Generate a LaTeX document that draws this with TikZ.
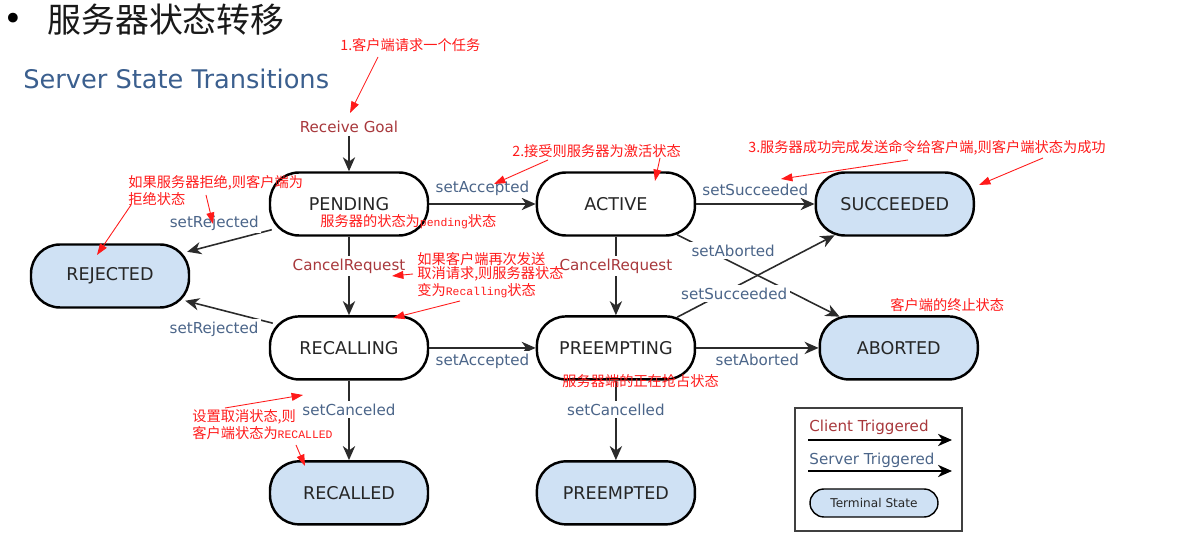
\documentclass[tikz,border=0pt]{standalone}
\usepackage{fontspec}
\setmainfont{DejaVu Sans}
\setmonofont{Liberation Mono}
\newfontfamily\cjk{Noto Sans CJK SC}
\newcommand\latinpart[1]{{\ttfamily\fontsize{6.5}{8.4}\selectfont #1}}
\usetikzlibrary{positioning,arrows.meta}

\definecolor{clientred}{HTML}{A8383C}
\definecolor{serverblue}{HTML}{4B6589}
\definecolor{termfill}{HTML}{CFE1F4}
\definecolor{titleblue}{HTML}{3B5F8E}
\definecolor{notered}{HTML}{FF1A1A}
\definecolor{edgegray}{HTML}{2B2B2B}

\begin{document}
\begin{tikzpicture}[%
		x=0.02cm, y=-0.02cm,
		>={Stealth[length=8pt,width=7pt,inset=2.5pt]},
		state/.style={%
			draw=black,
			line width=1.4pt,
			rounded corners=0.58cm,
			minimum width=3.16cm,
			minimum height=1.26cm,
			font=\fontsize{10}{12}\selectfont,
			text=black!85
		},
		term/.style={state, fill=termfill},
		trans/.style={->, draw=edgegray, line width=0.9pt},
		cli/.style={font=\fontsize{8.6}{10}\selectfont, text=clientred, fill=white, inner sep=1.5pt},
		srv/.style={font=\fontsize{8.6}{10}\selectfont, text=serverblue, fill=white, inner sep=1.5pt},
		note/.style={font=\cjk\fontsize{8.1}{8.4}\selectfont, text=notered, inner sep=0pt, anchor=west, align=left},
		noteline/.style={-{Triangle[length=6.5pt,width=4.5pt]}, draw=notered, line width=0.5pt}
		]
		\useasboundingbox (0,0) rectangle (1191,550);
		
		% headings
		\node[font=\fontsize{19}{22}\selectfont, inner sep=0pt] (bullet) at (13,22) {•};
		\node[font=\cjk\fontsize{19.3}{22}\selectfont, anchor=west, inner sep=0pt, text=black!90] (title) at (47,20) {服务器状态转移};
		\node[font=\fontsize{14.6}{16}\selectfont, anchor=west, inner sep=0pt, text=titleblue] (subtitle) at (23,79) {Server State Transitions};
		
		% states
		\node[state] (pending)                              at (349,204) {PENDING};
		\node[state] (active)     [right=2.13cm of pending]               {ACTIVE};
		\node[term]  (succeeded)  [right=2.37cm of active]                {SUCCEEDED};
		\node[term]  (rejected)                             at (110,276) {REJECTED};
		\node[state] (recalling)  [below=1.57cm of pending]               {RECALLING};
		\node[state] (preempting) [below=1.57cm of active]                {PREEMPTING};
		\node[term]  (aborted)    [right=2.45cm of preempting]            {ABORTED};
		\node[term]  (recalled)   [below=1.59cm of recalling]             {RECALLED};
		\node[term]  (preempted)  [below=1.59cm of preempting]            {PREEMPTED};
		
		\node[cli] (recv) at (349,127) {Receive Goal};
		
		\path (recv) edge[trans] (pending)
		(pending) edge[trans] node[srv, above=3pt] {setAccepted} (active)
		([shift={(3,-7)}]pending.south west) edge[trans] node[srv, pos=0.68, above=6pt] {setRejected} ([shift={(-3,8.5)}]rejected.north east)
		(pending) edge[trans] node[cli, pos=0.376] {CancelRequest} (recalling)
		([shift={(4,8)}]recalling.north west) edge[trans] node[srv, pos=0.67, below=6pt] {setRejected} ([shift={(-5,-8)}]rejected.south east)
		(recalling) edge[trans] node[srv, below=1.5pt] {setAccepted} (preempting)
		(recalling) edge[trans] node[srv, pos=0.366] {setCanceled} (recalled)
		(active) edge[trans] node[srv, above=3pt] {setSucceeded} (succeeded)
		(active) edge[trans] node[cli, pos=0.376] {CancelRequest} (preempting)
		([shift={(-19,-2)}]active.south east) edge[trans] node[srv, pos=0.345, above=1.9pt] {setAborted} ([shift={(21,1.5)}]aborted.north west)
		([shift={(-19,2)}]preempting.north east) edge[trans] node[srv, pos=0.3625, yshift=-3.4pt] {setSucceeded} ([shift={(20,-1.5)}]succeeded.south west)
		(preempting) edge[trans] node[srv, below=1.5pt] {setAborted} (aborted)
		(preempting) edge[trans] node[srv, pos=0.366] {setCancelled} (preempted);
		
		% legend
		\node[draw=black!75, line width=0.8pt, minimum width=3.34cm, minimum height=2.46cm] (legend) at (878.5,469.5) {};
		\node[cli, fill=none] (clilbl) at (869,427) {Client Triggered};
		\node[srv, fill=none] (srvlbl) at (872,460) {Server Triggered};
		\coordinate (cli a) at (808,440);
		\coordinate (cli b) at (952,440);
		\coordinate (srv a) at (808,471);
		\coordinate (srv b) at (952,471);
		\draw[trans, draw=black] (cli a) -- (cli b);
		\draw[trans, draw=black] (srv a) -- (srv b);
		\node[term, line width=0.8pt, minimum width=2.56cm, minimum height=0.56cm, rounded corners=0.28cm, font=\fontsize{6.9}{8}\selectfont] (termlbl) at (874,503) {Terminal State};
		
		% red notes
		\node[note] (note1) at (340,45) {1.客户端请求一个任务};
		\node[note] (note2) at (512,151) {2.接受则服务器为激活状态};
		\node[note] (note3) at (748,148) {3.服务器成功完成发送命令给客户端,则客户端状态为成功};
		\node[note] (noterej) at (128,190.5) {如果服务器拒绝,则客户端为\\拒绝状态};
		\node[note] (notepend) at (320,222) {服务器的状态为\latinpart{pending}状态};
		\node[note] (noterecl) at (417,275) {如果客户端再次发送\\取消请求,则服务器状态\\变为\latinpart{Recalling}状态};
		\node[note] (notepre) at (562,381) {服务器端的正在抢占状态};
		\node[note] (notercd) at (192,424.5) {设置取消状态,则\\客户端状态为\latinpart{RECALLED}};
		\node[note] (noteabo) at (890,305) {客户端的终止状态};
		
		\coordinate (t1) at (350,113);
		\coordinate (t2a) at (494,184);
		\coordinate (t2b) at (655,181);
		\coordinate (t3a) at (781,179);
		\coordinate (t3b) at (979,185);
		\coordinate (t4a) at (97,255);
		\coordinate (t4b) at (213,224);
		\coordinate (t5a) at (392,276);
		\coordinate (t5b) at (393,318);
		\coordinate (t6a) at (303,395);
		\coordinate (t6b) at (305,466);
		
		\draw[noteline] ([shift={(38,12)}]note1.west) -- (t1);
		\draw[noteline] ([shift={(36,9)}]note2.west) -- (t2a);
		\draw[noteline] ([shift={(148,7)}]note2.west) -- (t2b);
		\draw[noteline] ([shift={(160,12)}]note3.west) -- (t3a);
		\draw[noteline] ([shift={(295,10)}]note3.west) -- (t3b);
		\draw[noteline] ([shift={(3,14.5)}]noterej.west) -- (t4a);
		\draw[noteline] ([shift={(78,4.5)}]noterej.west) -- (t4b);
		\draw[noteline] ([shift={(-4,-1)}]noterecl.west) -- (t5a);
		\draw[noteline] ([shift={(43,26)}]noterecl.west) -- (t5b);
		\draw[noteline] ([shift={(33,-16.5)}]notercd.west) -- (t6a);
		\draw[noteline] ([shift={(104,20.5)}]notercd.west) -- (t6b);
\end{tikzpicture}
\end{document}
